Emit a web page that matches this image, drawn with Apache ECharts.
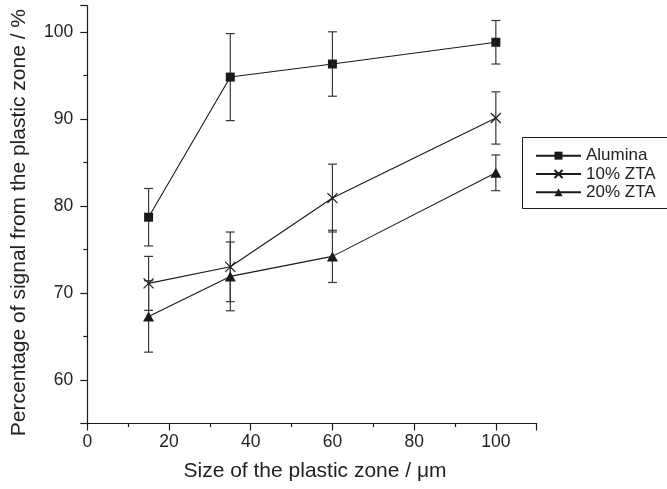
<!DOCTYPE html>
<html>
<head>
<meta charset="utf-8">
<script src="https://cdn.jsdelivr.net/npm/echarts@6/dist/echarts.min.js"></script>
<style>
  html, body { margin: 0; padding: 0; background: #fff; }
  #chart { width: 667px; height: 489px; }
</style>
</head>
<body>
<div id="chart"></div>
<script>
// Plastic-zone size (µm) and the share of signal coming from that zone (%)
const sizes = [15, 35, 60, 100];
const alumina = [78.7, 94.8, 96.3, 98.8];
const aluminaErr = [3.3, 5.0, 3.7, 2.5];
const zta10 = [71.1, 73.0, 80.9, 90.1];
const zta10Err = [3.1, 4.0, 3.9, 3.0];
const zta20 = [67.3, 71.9, 74.2, 83.8];
const zta20Err = [4.1, 3.95, 3.0, 2.05];
const seriesNames = ['Alumina', '10% ZTA', '20% ZTA'];
const xTicks = [0, 20, 40, 60, 80, 100];
const yTicks = [60, 70, 80, 90, 100];

const FONT = '"Liberation Sans", Arial, Helvetica, sans-serif';
const INK = '#1a1a1a';
const TEXT = '#222';

function points(values) {
  return sizes.map((x, i) => [x, values[i]]);
}

// Vertical error bar with a cap at each end
function errorBars(name, values, errs) {
  return {
    type: 'custom',
    name: name + ' (error)',
    silent: true,
    z: 1,
    data: sizes.map((x, i) => [x, values[i] - errs[i], values[i] + errs[i]]),
    encode: { x: 0, y: [1, 2] },
    renderItem(params, api) {
      const lo = api.coord([api.value(0), api.value(1)]);
      const hi = api.coord([api.value(0), api.value(2)]);
      const w = 4.5;
      const style = { stroke: '#383838', lineWidth: 1.2 };
      return {
        type: 'group',
        children: [
          { type: 'line', shape: { x1: lo[0], y1: lo[1], x2: hi[0], y2: hi[1] }, style },
          { type: 'line', shape: { x1: hi[0] - w, y1: hi[1], x2: hi[0] + w, y2: hi[1] }, style },
          { type: 'line', shape: { x1: lo[0] - w, y1: lo[1], x2: lo[0] + w, y2: lo[1] }, style }
        ]
      };
    }
  };
}

const lineStyle = { color: INK, width: 1.1 };
const axisLineStyle = { color: INK, width: 1.2 };

const chart = echarts.init(document.getElementById('chart'), null, { renderer: 'canvas' });

chart.setOption({
  animation: false,
  backgroundColor: '#fff',
  textStyle: { fontFamily: FONT },
  grid: { left: 87.3, top: 5.7, right: 130.3, bottom: 65.5, containLabel: false, outerBoundsMode: 'none' },
  xAxis: {
    type: 'value',
    min: 0,
    max: 110,
    interval: 20,
    name: 'Size of the plastic zone / \u03bcm',
    nameLocation: 'middle',
    nameGap: 37,
    nameTextStyle: { fontSize: 21, color: TEXT, fontFamily: FONT, padding: [0, 0, 0, 6] },
    axisLine: { show: true, onZero: false, lineStyle: axisLineStyle },
    axisTick: { show: true, length: 7, lineStyle: axisLineStyle },
    minorTick: { show: true, splitNumber: 2, length: 3.5, lineStyle: axisLineStyle },
    splitLine: { show: false },
    minorSplitLine: { show: false },
    axisLabel: {
      fontSize: 17.5,
      color: TEXT,
      fontFamily: FONT,
      margin: 10,
      formatter: v => (xTicks.includes(v) ? String(v) : '')
    }
  },
  yAxis: {
    type: 'value',
    min: 55,
    max: 103,
    splitNumber: 5,
    name: 'Percentage of signal from the plastic zone / %',
    nameLocation: 'middle',
    nameGap: 58,
    nameTextStyle: { fontSize: 21, color: TEXT, fontFamily: FONT, padding: [0, 16, 0, 0] },
    axisLine: { show: true, onZero: false, lineStyle: axisLineStyle },
    axisTick: { show: true, length: 7, lineStyle: axisLineStyle },
    minorTick: { show: true, splitNumber: 2, length: 4, lineStyle: axisLineStyle },
    splitLine: { show: false },
    minorSplitLine: { show: false },
    axisLabel: {
      fontSize: 17.5,
      color: TEXT,
      fontFamily: FONT,
      margin: 14,
      formatter: v => (yTicks.includes(v) ? String(v) : '')
    }
  },
  legend: {
    data: seriesNames,
    orient: 'vertical',
    left: 535,
    top: 146.5,
    padding: 0,
    itemWidth: 45,
    itemHeight: 10,
    itemGap: 0,
    textStyle: { fontSize: 17, lineHeight: 18.3, color: TEXT, fontFamily: FONT }
  },
  graphic: [
    {
      type: 'rect',
      shape: { x: 522.5, y: 137.5, width: 160, height: 71 },
      style: { fill: 'none', stroke: INK, lineWidth: 1 },
      silent: true,
      z: 0
    }
  ],
  series: [
    errorBars('Alumina', alumina, aluminaErr),
    errorBars('10% ZTA', zta10, zta10Err),
    errorBars('20% ZTA', zta20, zta20Err),
    {
      type: 'line',
      name: 'Alumina',
      data: points(alumina),
      symbol: 'rect',
      symbolSize: 9,
      showAllSymbol: true,
      lineStyle,
      itemStyle: { color: INK },
      z: 3
    },
    {
      type: 'line',
      name: '10% ZTA',
      data: points(zta10),
      symbol: 'path://M0,0L10,10M10,0L0,10',
      symbolSize: 10,
      showAllSymbol: true,
      lineStyle,
      itemStyle: { color: 'none', borderColor: INK, borderWidth: 1.2 },
      z: 3
    },
    {
      type: 'line',
      name: '20% ZTA',
      data: points(zta20),
      symbol: 'triangle',
      symbolSize: [11, 10],
      showAllSymbol: true,
      lineStyle,
      itemStyle: { color: INK },
      z: 3
    }
  ]
});
</script>
</body>
</html>
